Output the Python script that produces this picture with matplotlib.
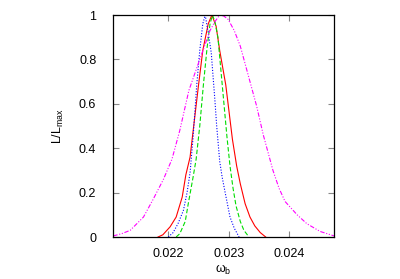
import numpy as np
import matplotlib
matplotlib.use("Agg")
import matplotlib.pyplot as plt
from matplotlib.ticker import FormatStrFormatter

plt.rcParams['font.family'] = ['Liberation Sans', 'DejaVu Sans']
plt.rcParams['mathtext.default'] = 'regular'

# red solid
red_x = [0.02183, 0.02191, 0.02203, 0.02213, 0.02223, 0.02229, 0.02236, 0.02242,
         0.02250, 0.02257, 0.02266, 0.02272, 0.02279, 0.02285, 0.02295, 0.02306,
         0.02313, 0.02319, 0.02327, 0.02335, 0.02343, 0.02352, 0.02361]
red_y = [0.0, 0.01, 0.046, 0.09, 0.18, 0.28, 0.36, 0.5,
         0.685, 0.84, 0.96, 1.0, 0.95, 0.84, 0.685, 0.44,
         0.32, 0.24, 0.15, 0.09, 0.05, 0.02, 0.0]

# green dashed
green_x = [0.02213, 0.02219, 0.02228, 0.02233, 0.02241, 0.02246, 0.02252, 0.02258,
           0.02264, 0.02269, 0.02273, 0.02277, 0.02282, 0.02287, 0.02292, 0.02297,
           0.02302, 0.02307, 0.02312, 0.02319, 0.02325, 0.02332]
green_y = [0.0, 0.015, 0.07, 0.15, 0.27, 0.35, 0.5, 0.685,
           0.85, 0.96, 1.0, 0.97, 0.9, 0.75, 0.6, 0.45,
           0.32, 0.22, 0.14, 0.07, 0.03, 0.005]

# blue dotted
blue_x = [0.02200, 0.02208, 0.02216, 0.02225, 0.02231, 0.02236, 0.02241, 0.02247,
          0.02252, 0.02257, 0.02261, 0.02266, 0.02271, 0.02277, 0.02280, 0.02285,
          0.02289, 0.02294, 0.02302, 0.02309, 0.02317]
blue_y = [0.0, 0.02, 0.06, 0.12, 0.2, 0.29, 0.45, 0.685,
          0.84, 0.96, 1.0, 0.92, 0.83, 0.617, 0.5, 0.34,
          0.27, 0.2, 0.09, 0.04, 0.0]

# magenta dash-dot
mag_x = [0.02109, 0.02123, 0.02137, 0.02159, 0.02175, 0.02192, 0.02206, 0.02219,
         0.02234, 0.02252, 0.02269, 0.02277, 0.02285, 0.02292, 0.02299, 0.02309,
         0.02319, 0.02332, 0.02346, 0.02357, 0.02373, 0.02383, 0.02393, 0.02403,
         0.02413, 0.02429, 0.02451, 0.02474]
mag_y = [0.005, 0.015, 0.03, 0.09, 0.17, 0.26, 0.35, 0.48,
         0.66, 0.80, 0.93, 0.97, 1.0, 0.995, 0.98, 0.93,
         0.86, 0.73, 0.59, 0.46, 0.30, 0.22, 0.16, 0.13,
         0.10, 0.06, 0.025, 0.005]

fig = plt.figure(figsize=(4.0, 2.79), dpi=100)
ax = fig.add_axes([0.2825, 0.1505, 0.5525, 0.7957])

lw = 0.8
ax.plot(red_x, red_y, color='#ff0000', lw=lw, ls='-')
ax.plot(green_x, green_y, color='#00dd00', lw=lw, ls=(0, (4, 2)))
ax.plot(blue_x, blue_y, color='#0000ff', lw=lw, ls=(0, (1, 1.5)))
ax.plot(mag_x, mag_y, color='#ff00ff', lw=lw, ls=(0, (4, 1.5, 1, 1.5, 1, 1.5)))

ax.set_xlim(0.021086, 0.024739)
ax.set_ylim(0, 1)
ax.set_xticks([0.022, 0.023, 0.024])
ax.set_yticks([0, 0.2, 0.4, 0.6, 0.8, 1])
ax.xaxis.set_major_formatter(FormatStrFormatter('%g'))
ax.yaxis.set_major_formatter(FormatStrFormatter('%g'))
ax.tick_params(direction='in', top=True, right=True, length=4, width=0.8,
               color='#888888', labelsize=9)
ax.tick_params(axis='x', pad=8)
ax.tick_params(axis='y', pad=12)
for s in ax.spines.values():
    s.set_linewidth(0.9)

ax.set_xlabel(r'$\omega_b$', fontsize=9, labelpad=2)
ax.set_ylabel(r'L/L$_{max}$', fontsize=9, labelpad=9)

fig.savefig('out.png', dpi=100)
